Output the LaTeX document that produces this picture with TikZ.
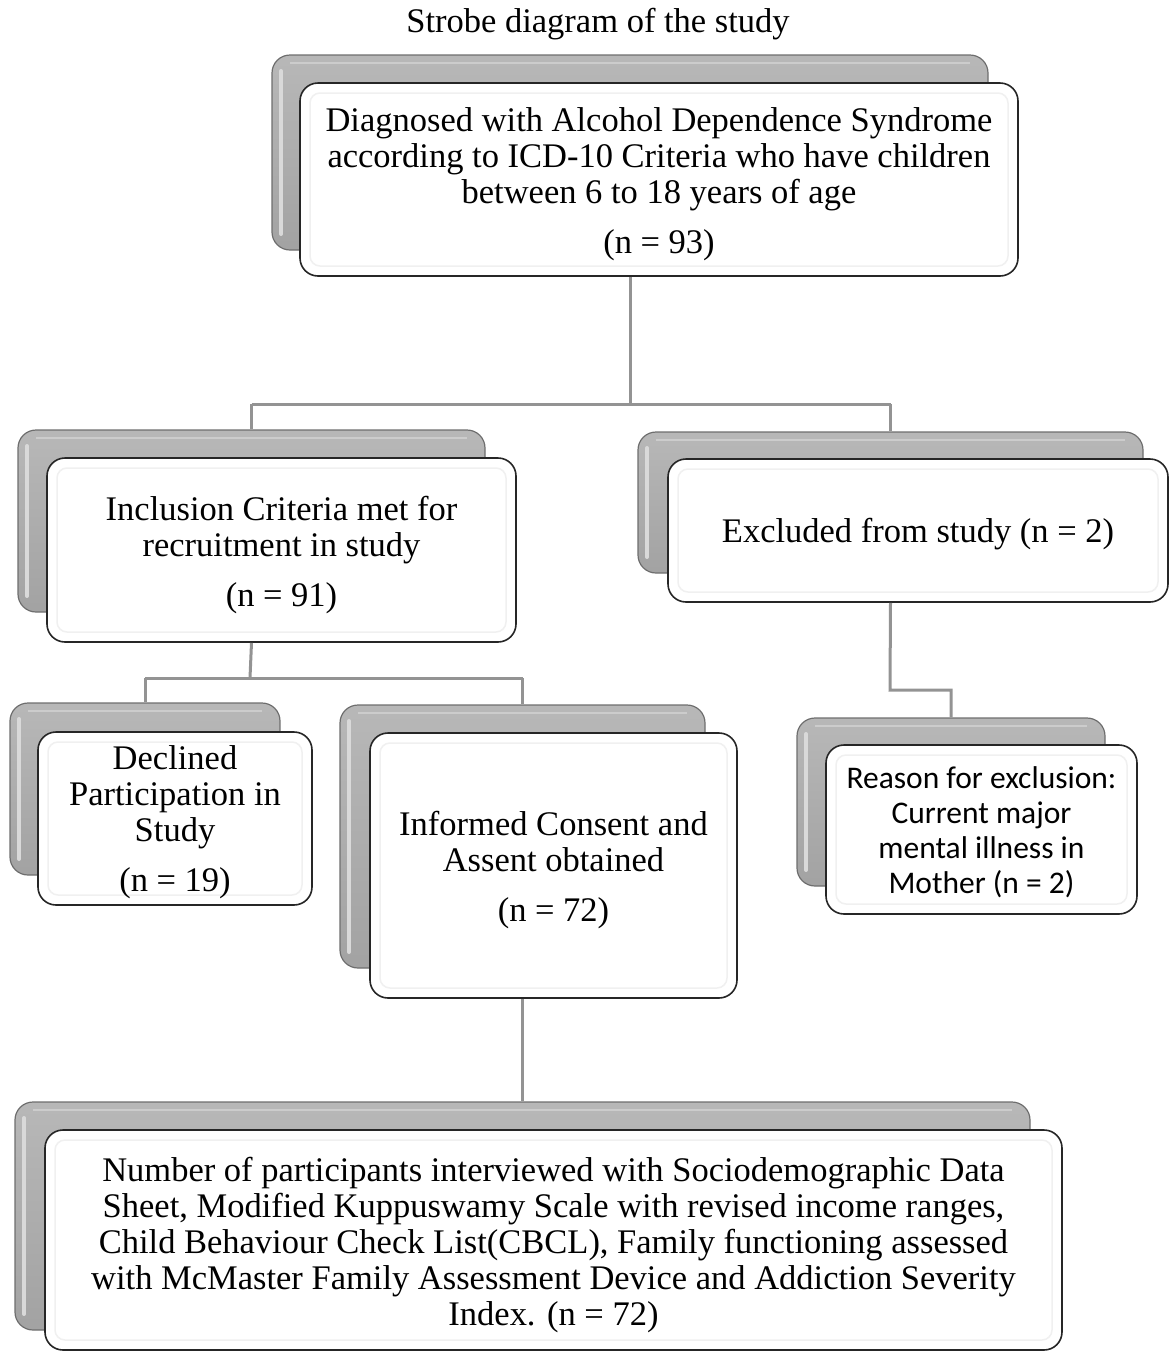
\documentclass[tikz,border=0pt]{standalone}
\usepackage{fontspec}
\setmainfont{Liberation Serif}
\newfontfamily\calfont{Carlito}
\usetikzlibrary{calc}
\definecolor{conn}{HTML}{939393}
\definecolor{backfill}{HTML}{ABABAB}
\definecolor{backedge}{HTML}{6E6E6E}
\tikzset{
  backbox/.style={rectangle, rounded corners=18pt, draw=backedge, line width=1.2pt,
    top color=backfill!85!white, bottom color=backfill!95!black, inner sep=0pt,
    path picture={\draw[white!70!gray, line width=4pt, line cap=round]
      ([shift={(9pt,-16pt)}]path picture bounding box.north west) --
      ([shift={(9pt,16pt)}]path picture bounding box.south west);
      \draw[white!60!gray, line width=1.5pt]
      ([shift={(18pt,-8pt)}]path picture bounding box.north west) --
      ([shift={(-18pt,-8pt)}]path picture bounding box.north east);}},
  frontbox/.style={rectangle, rounded corners=18pt, draw=black!85, line width=1.6pt,
    fill=white, inner sep=0pt, align=center, font=\fontsize{34.5}{36}\selectfont,
    path picture={\draw[black!6, line width=1.5pt, rounded corners=10pt]
      ([shift={(10pt,-10pt)}]path picture bounding box.north west) rectangle
      ([shift={(-10pt,10pt)}]path picture bounding box.south east);}},
  connector/.style={draw=conn, line width=3pt},
}
\begin{document}
\begin{tikzpicture}[x=1pt,y=-1pt]
\useasboundingbox (0,0) rectangle (1170,1353);

\node[font=\fontsize{34.5}{36}\selectfont] (title) at (598,24) {Strobe diagram of the study};

% Box 1
\node[backbox, minimum width=716pt, minimum height=195pt] (b1back) at (630,152.5) {};
\node[frontbox, minimum width=718pt, minimum height=193pt] (b1) at (659,179.5)
 {\rule{0pt}{34pt}Diagnosed with Alcohol Dependence Syndrome\\according to ICD-10 Criteria who have children\\between 6 to 18 years of age\\[14pt](n = 93)};

% Box 2
\node[backbox, minimum width=467pt, minimum height=182pt] (b2back) at (251.5,521) {};
\node[frontbox, minimum width=469pt, minimum height=184pt] (b2) at (281.5,550)
 {\rule{0pt}{34pt}Inclusion Criteria met for\\recruitment in study\\[14pt](n = 91)};

% Box 3
\node[backbox, minimum width=505pt, minimum height=141pt] (b3back) at (890.5,502.5) {};
\node[frontbox, minimum width=500pt, minimum height=143pt] (b3) at (918,530.5)
 {\rule{0pt}{32pt}Excluded from study (n = 2)};

% Box 4
\node[backbox, minimum width=270pt, minimum height=172pt] (b4back) at (145,789) {};
\node[frontbox, minimum width=274pt, minimum height=173pt] (b4) at (175,818.5)
 {\rule{0pt}{32pt}Declined\\Participation in\\Study\\[14pt](n = 19)};

% Box 5
\node[backbox, minimum width=365pt, minimum height=263pt] (b5back) at (522.5,836.5) {};
\node[frontbox, minimum width=367pt, minimum height=265pt] (b5) at (553.5,865.5)
 {\rule{0pt}{34pt}Informed Consent and\\Assent obtained\\[14pt](n = 72)};

% Box 6
\node[backbox, minimum width=308pt, minimum height=168pt] (b6back) at (951,802) {};
\node[frontbox, minimum width=311pt, minimum height=169pt, font=\calfont\fontsize{31.5}{35}\selectfont] (b6) at (981.5,829.5)
 {\rule{0pt}{28pt}Reason for exclusion:\\Current major\\mental illness in\\Mother (n = 2)};

% Box 7
\node[backbox, minimum width=1015pt, minimum height=228pt] (b7back) at (522.5,1216) {};
\node[frontbox, minimum width=1017pt, minimum height=220pt] (b7) at (553.5,1240)
 {\rule{0pt}{34pt}Number of participants interviewed with Sociodemographic Data\\Sheet, Modified Kuppuswamy Scale with revised income ranges,\\Child Behaviour Check List(CBCL), Family functioning assessed\\with McMaster Family Assessment Device and Addiction Severity\\Index. (n = 72)};

% junctions
\coordinate (j1) at (630,404);
\coordinate (j2) at (250,678);
\coordinate (j3) at (890,690);

% connectors
\draw[connector] (b1back.center |- b1.south) -- (j1);
\draw[connector] (b2back.north |- j1) -- (b3back.north |- j1);
\draw[connector] (b2back.north |- j1) -- (b2back.north);
\draw[connector] (b3back.north |- j1) -- (b3back.north);

\draw[connector] (b2back.center |- b2.south) -- (j2);
\draw[connector] (b4back.north |- j2) -- (b5back.north |- j2);
\draw[connector] (b4back.north |- j2) -- (b4back.north);
\draw[connector] (b5back.north |- j2) -- (b5back.north);

\draw[connector] (b3back.center |- b3.south) -- (j3) -| (b6back.north);

\draw[connector] (b5back.center |- b5.south) -- (b7back.north);
\end{tikzpicture}
\end{document}
